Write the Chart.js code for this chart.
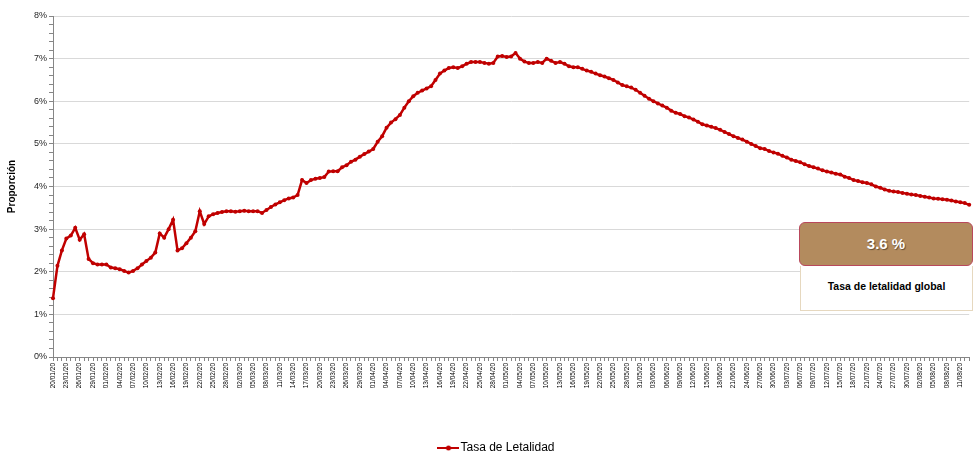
<!DOCTYPE html>
<html lang="es">
<head>
<meta charset="utf-8">
<title>Tasa de Letalidad</title>
<script src="https://cdn.jsdelivr.net/npm/chart.js@4.4.1/dist/chart.umd.min.js"></script>
<style>
    html, body { margin: 0; padding: 0; background: #ffffff; }
    #wrap { position: relative; width: 979px; height: 454px; overflow: hidden; }
    #chart { position: absolute; left: 0; top: 0; }
    .kpi-top {
        position: absolute; left: 799px; top: 222px; width: 172px; height: 42px;
        background: #b38b5e; border: 1.5px solid #b9485c; border-radius: 6px;
        color: #ffffff; font: bold 15px "Liberation Sans", Arial, sans-serif;
        text-align: center; line-height: 42px; text-shadow: 1px 1px 1px rgba(0,0,0,0.45);
    }
    .kpi-bottom {
        position: absolute; left: 800px; top: 266px; width: 171px; height: 44px;
        background: #ffffff; border: 1px solid #e6d8bf; border-top: none;
        color: #000000; font: bold 10.5px "Liberation Sans", Arial, sans-serif;
        text-align: center; line-height: 40px;
    }
</style>
</head>
<body>
<div id="wrap">
    <canvas id="chart" width="979" height="454"></canvas>
    <div class="kpi-bottom">Tasa de letalidad global</div>
    <div class="kpi-top">3.6 %</div>
</div>
<script>
// Daily case fatality rate (%), starting 20/01/20
const startDay = [2020, 0, 20];
const dayCount = 207;

const letalidad = [
    1.38, 2.14, 2.5, 2.78, 2.85, 3.03, 2.75, 2.88, 2.3, 2.2,
    2.17, 2.17, 2.17, 2.1, 2.08, 2.06, 2.02, 1.98, 2.02, 2.08,
    2.17, 2.25, 2.33, 2.45, 2.9, 2.8, 3.0, 3.22, 2.5, 2.55,
    2.67, 2.8, 2.95, 3.42, 3.12, 3.3, 3.35, 3.38, 3.4, 3.42,
    3.42, 3.41, 3.42, 3.43, 3.42, 3.42, 3.42, 3.38, 3.45, 3.52,
    3.58, 3.63, 3.68, 3.72, 3.74, 3.8, 4.15, 4.08, 4.15, 4.18,
    4.2, 4.22, 4.35, 4.36, 4.36, 4.45, 4.5, 4.58, 4.63, 4.7,
    4.76, 4.82, 4.88, 5.05, 5.18, 5.38, 5.5, 5.58, 5.68, 5.85,
    6.0, 6.12, 6.2, 6.25, 6.3, 6.35, 6.5, 6.65, 6.72, 6.78,
    6.8, 6.78, 6.82, 6.88, 6.92, 6.92, 6.92, 6.9, 6.88, 6.9,
    7.05, 7.06, 7.04, 7.05, 7.13, 7.0, 6.93, 6.9, 6.9, 6.92,
    6.9, 7.0, 6.95, 6.9, 6.92, 6.88, 6.82, 6.8, 6.8, 6.76,
    6.72, 6.69, 6.65, 6.61, 6.58, 6.54, 6.5, 6.44, 6.38, 6.35,
    6.32, 6.27, 6.2, 6.13, 6.06, 6.0, 5.95, 5.9, 5.85, 5.78,
    5.73, 5.7, 5.65, 5.62, 5.57, 5.52, 5.46, 5.43, 5.4, 5.37,
    5.33, 5.28, 5.23, 5.18, 5.14, 5.1, 5.05, 5.0, 4.95, 4.9,
    4.88, 4.83, 4.8, 4.77, 4.72, 4.68, 4.63, 4.6, 4.57, 4.52,
    4.48, 4.45, 4.42, 4.38, 4.35, 4.33, 4.3, 4.28, 4.23, 4.2,
    4.15, 4.13, 4.1, 4.08, 4.05, 4.0, 3.97, 3.93, 3.9, 3.88,
    3.87, 3.85, 3.83, 3.81, 3.8, 3.78, 3.76, 3.74, 3.72, 3.71,
    3.7, 3.69, 3.67, 3.65, 3.63, 3.61, 3.57
];

const seriesLabel = 'Tasa de Letalidad';
const yTitle = 'Proporción';

// dd/mm/yy labels, one per day
const pad = n => String(n).padStart(2, '0');
const fechas = [];
for (let i = 0; i < dayCount; i++) {
    const d = new Date(startDay[0], startDay[1], startDay[2] + i);
    fechas.push(pad(d.getDate()) + '/' + pad(d.getMonth() + 1) + '/' + String(d.getFullYear()).slice(2));
}

const red = '#c00000';
const axisGray = '#868686';

// legend marker: line with a dot in the middle
function legendMarker() {
    const c = document.createElement('canvas');
    c.width = 22;
    c.height = 8;
    const g = c.getContext('2d');
    g.strokeStyle = red;
    g.lineWidth = 2;
    g.beginPath();
    g.moveTo(0, 4);
    g.lineTo(22, 4);
    g.stroke();
    g.fillStyle = red;
    g.beginPath();
    g.arc(11, 4, 2.5, 0, Math.PI * 2);
    g.fill();
    return c;
}

// nudge the legend a bit lower / right, like the original sheet
const legendNudge = {
    id: 'legendNudge',
    afterLayout(chart) {
        const lg = chart.legend;
        if (!lg) return;
        lg.top += 10;
        lg.bottom += 10;
        lg.left += 8;
        lg.right += 8;
    }
};

const isMajor = v => Math.abs(v - Math.round(v)) < 1e-6;

new Chart(document.getElementById('chart').getContext('2d'), {
    type: 'line',
    data: {
        labels: fechas,
        datasets: [{
            label: seriesLabel,
            data: letalidad,
            borderColor: red,
            backgroundColor: red,
            borderWidth: 2.5,
            pointRadius: 2,
            pointBorderWidth: 0,
            pointBackgroundColor: red,
            tension: 0
        }]
    },
    plugins: [legendNudge],
    options: {
        responsive: false,
        animation: false,
        layout: { padding: { top: 16, right: 2, left: 4, bottom: 0 } },
        plugins: {
            tooltip: { enabled: false },
            legend: {
                position: 'bottom',
                labels: {
                    usePointStyle: true,
                    pointStyle: legendMarker(),
                    padding: 2,
                    color: '#000000',
                    font: { family: 'Liberation Sans', size: 12 }
                }
            }
        },
        scales: {
            x: {
                afterFit: scale => { scale.height = 73; },
                border: { color: axisGray },
                grid: { drawOnChartArea: false, color: axisGray, tickLength: 4 },
                ticks: {
                    autoSkip: false,
                    maxRotation: 90,
                    minRotation: 90,
                    padding: 2,
                    color: '#000000',
                    font: { family: 'Liberation Sans', size: 6.5 },
                    callback: function (value, index) {
                        return index % 3 === 0 ? this.getLabelForValue(value) : '';
                    }
                }
            },
            y: {
                min: 0,
                max: 8,
                afterFit: scale => { scale.width = 49; },
                border: { color: axisGray },
                title: {
                    display: true,
                    text: yTitle,
                    color: '#000000',
                    padding: 2,
                    font: { family: 'Liberation Sans', size: 10, weight: 'bold' }
                },
                grid: {
                    color: ctx => isMajor(ctx.tick.value) ? '#d9d9d9' : 'rgba(0,0,0,0)',
                    tickColor: axisGray,
                    tickLength: 4
                },
                ticks: {
                    stepSize: 0.2,
                    autoSkip: false,
                    padding: 2,
                    color: '#1f1f1f',
                    font: { family: 'Liberation Sans', size: 9 },
                    callback: v => isMajor(v) ? Math.round(v) + '%' : ''
                }
            }
        }
    }
});
</script>
</body>
</html>
